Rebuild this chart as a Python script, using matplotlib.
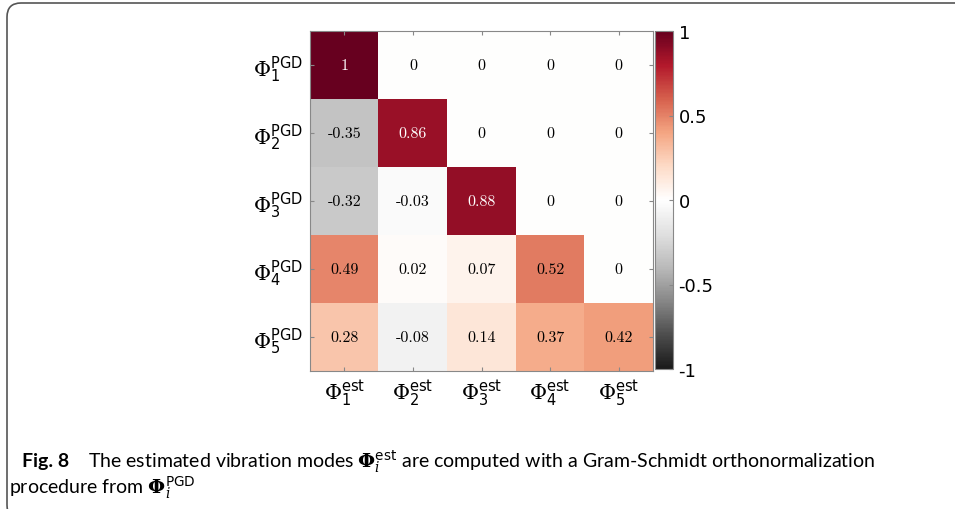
import numpy as np
import matplotlib
matplotlib.use('Agg')
import matplotlib.pyplot as plt
from matplotlib.patches import FancyBboxPatch
from matplotlib.transforms import IdentityTransform

plt.rcParams['mathtext.fontset'] = 'dejavuserif'

# MAC-like matrix between PGD modes (rows) and estimated modes (columns)
row_labels = [r'$\Phi_{\mathsf{%d}}^{\mathsf{PGD}}$' % i for i in range(1, 6)]
col_labels = [r'$\Phi_{\mathsf{%d}}^{\mathsf{est}}$' % i for i in range(1, 6)]
row1 = [1.00, 0.00, 0.00, 0.00, 0.00]
row2 = [-0.35, 0.86, 0.00, 0.00, 0.00]
row3 = [-0.32, -0.03, 0.88, 0.00, 0.00]
row4 = [0.49, 0.02, 0.07, 0.52, 0.00]
row5 = [0.28, -0.08, 0.14, 0.37, 0.42]
cbar_ticks = [-1, -0.5, 0, 0.5, 1]

M = np.array([row1, row2, row3, row4, row5])

fig = plt.figure(figsize=(9.55, 5.1), dpi=100)
W, H = 955, 510

ax = fig.add_axes([310 / W, (H - 372) / H, 343 / W, 340 / H])
im = ax.imshow(M, cmap='RdGy_r', vmin=-1, vmax=1, aspect='auto')

for i in range(M.shape[0]):
    for j in range(M.shape[1]):
        v = M[i, j]
        ax.text(j, i, '%g' % v, ha='center', va='center', fontsize=11.5,
                family=['cmr10', 'DejaVu Serif'],
                color='white' if abs(v) > 0.7 else 'black')

ax.set_xticks(range(5))
ax.set_xticklabels(col_labels, fontsize=15)
ax.set_yticks(range(5))
ax.set_yticklabels(row_labels, fontsize=15)
ax.tick_params(direction='in', length=3, color='#888888', top=True, right=True,
               pad=5)
for s in ax.spines.values():
    s.set_color('#888888')

cax = fig.add_axes([655 / W, (H - 370) / H, 18 / W, 338 / H])
cb = fig.colorbar(im, cax=cax, ticks=cbar_ticks)
cb.ax.set_yticklabels(['-1', '-0.5', '0', '0.5', '1'], fontsize=13)
cb.ax.tick_params(direction='in', length=3, color='#888888', pad=4)
cb.outline.set_edgecolor('#888888')

# caption and frame
cap_font = ['Lato', 'DejaVu Sans']
fig.text(22 / W, 1 - 462 / H, 'Fig. 8', fontsize=14, weight='bold',
         family=cap_font, va='center')
fig.text(88 / W, 1 - 462 / H,
         r'The estimated vibration modes $\mathbf{\Phi}_i^{\mathsf{est}}$ are computed '
         'with a Gram-Schmidt orthonormalization',
         fontsize=14, family=cap_font, va='center')
fig.text(9 / W, 1 - 488 / H, r'procedure from $\mathbf{\Phi}_i^{\mathsf{PGD}}$',
         fontsize=14, family=cap_font, va='center')

frame = FancyBboxPatch((7, -10), 2000, 516,
                       boxstyle='round,pad=0,rounding_size=14',
                       transform=IdentityTransform(), fill=False,
                       edgecolor='#555555', linewidth=1.2)
fig.patches.append(frame)

fig.savefig('out.png', dpi=100)
